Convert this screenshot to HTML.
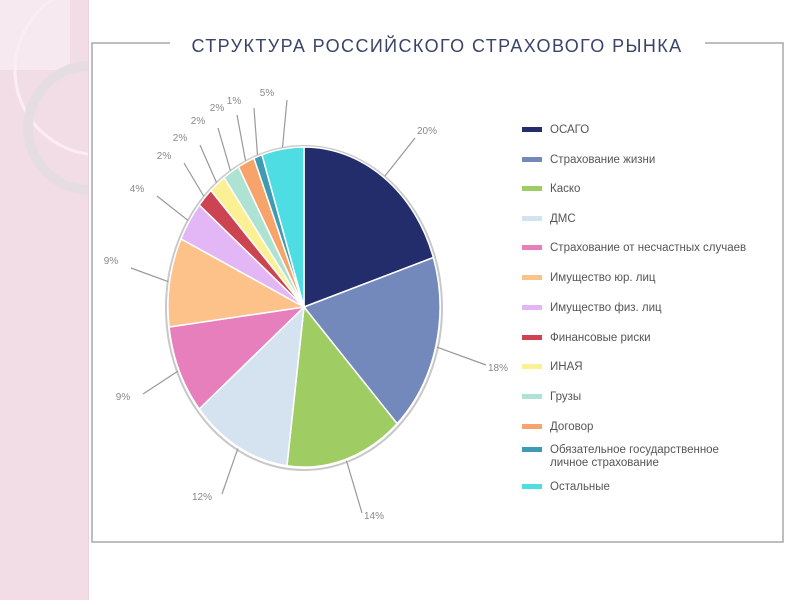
<!DOCTYPE html>
<html><head><meta charset="utf-8"><style>
body{margin:0;width:800px;height:600px;overflow:hidden;background:#fff;font-family:"Liberation Sans",sans-serif;position:relative}
#strip{position:absolute;left:0;top:0;width:88px;height:600px;background:#f2dde6;border-right:1px solid #e8d3dc}
</style></head><body>
<div id="strip">
<svg width="88" height="600"><rect x="0" y="0" width="70" height="70" fill="#f6e9ef"/>
<circle cx="100" cy="70" r="85" fill="none" stroke="#fbeef3" stroke-width="3"/>
<circle cx="90" cy="128" r="62" fill="none" stroke="#e6dde2" stroke-width="10"/></svg></div>
<svg id="s" width="800" height="600" style="position:absolute;left:0;top:0">
<polyline points="170,43 92,43 92,542 783,542 783,43 705,43" fill="none" stroke="#a9a9a9" stroke-width="1.5"/>
<text x="437" y="52" text-anchor="middle" font-size="18" letter-spacing="1.4" fill="#3a4468">СТРУКТУРА РОССИЙСКОГО СТРАХОВОГО РЫНКА</text>
<g id="pie"></g><g id="leg" font-size="11.5" fill="#555"></g>
</svg>
<script>
var cx=304,cy=307,rx=136,ry=160;
var d=[[20,"#232d6b","ОСАГО",417,134],[18,"#7388bb","Страхование жизни",488,371],[14,"#9fcc63","Каско",364,519],[12,"#d5e2ef","ДМС",210,500],[9,"#e77fbd","Страхование от несчастных случаев",131,400],[9,"#fcc28a","Имущество юр. лиц",119,264],[4,"#e3b6f5","Имущество физ. лиц",145,192],[2,"#cc4452","Финансовые риски",172,159],[2,"#fcf094","ИНАЯ",188,141],[2,"#aee3d4","Грузы",206,124],[2,"#f7a46a","Договор",225,111],[1,"#3f9bb3","Обязательное государственное|личное страхование",242,104],[5,"#4ddde3","Остальные",275,96]];
var ns="http://www.w3.org/2000/svg",g=document.getElementById("pie"),L=document.getElementById("leg");
function el(t,a,p){var e=document.createElementNS(ns,t);for(var k in a)e.setAttribute(k,a[k]);(p||g).appendChild(e);return e}
function pt(a,r){r=r||1;return [cx+rx*r*Math.sin(a),cy-ry*r*Math.cos(a)]}
el("ellipse",{cx:cx,cy:cy+1,rx:rx+2,ry:ry+2,fill:"none",stroke:"#c8c8c8","stroke-width":2});
var a=0,ly=[129,159,188,218,247,277,307,337,366,396,426,449,486];
d.forEach(function(s,i){var b=a+s[0]/100*2*Math.PI,p1=pt(a),p2=pt(b);
el("path",{d:"M"+cx+","+cy+"L"+p1+"A"+rx+","+ry+" 0 "+(b-a>Math.PI?1:0)+",1 "+p2+"Z",fill:s[1],stroke:"#fff","stroke-width":1.5});
var m=pt((a+b)/2,1.01),lx=s[3],lyy=s[4]-4;
el("line",{x1:m[0],y1:m[1],x2:lx>cx?lx-2:lx+12,y2:lyy+(lyy<cy?8:-2),stroke:"#999","stroke-width":1.2});
var t=el("text",{x:lx-(lx>cx?0:8),y:s[4],"font-size":10,fill:"#888","text-anchor":lx>cx?"start":"middle"});t.textContent=s[0]+"%";
el("rect",{x:522,y:ly[i]-2,width:20,height:5,fill:s[1]},L);
var parts=s[2].split("|");parts.forEach(function(p,j){var tt=el("text",{x:550,y:ly[i]+4+j*13},L);tt.textContent=p;});
a=b;});
</script>
</body></html>
